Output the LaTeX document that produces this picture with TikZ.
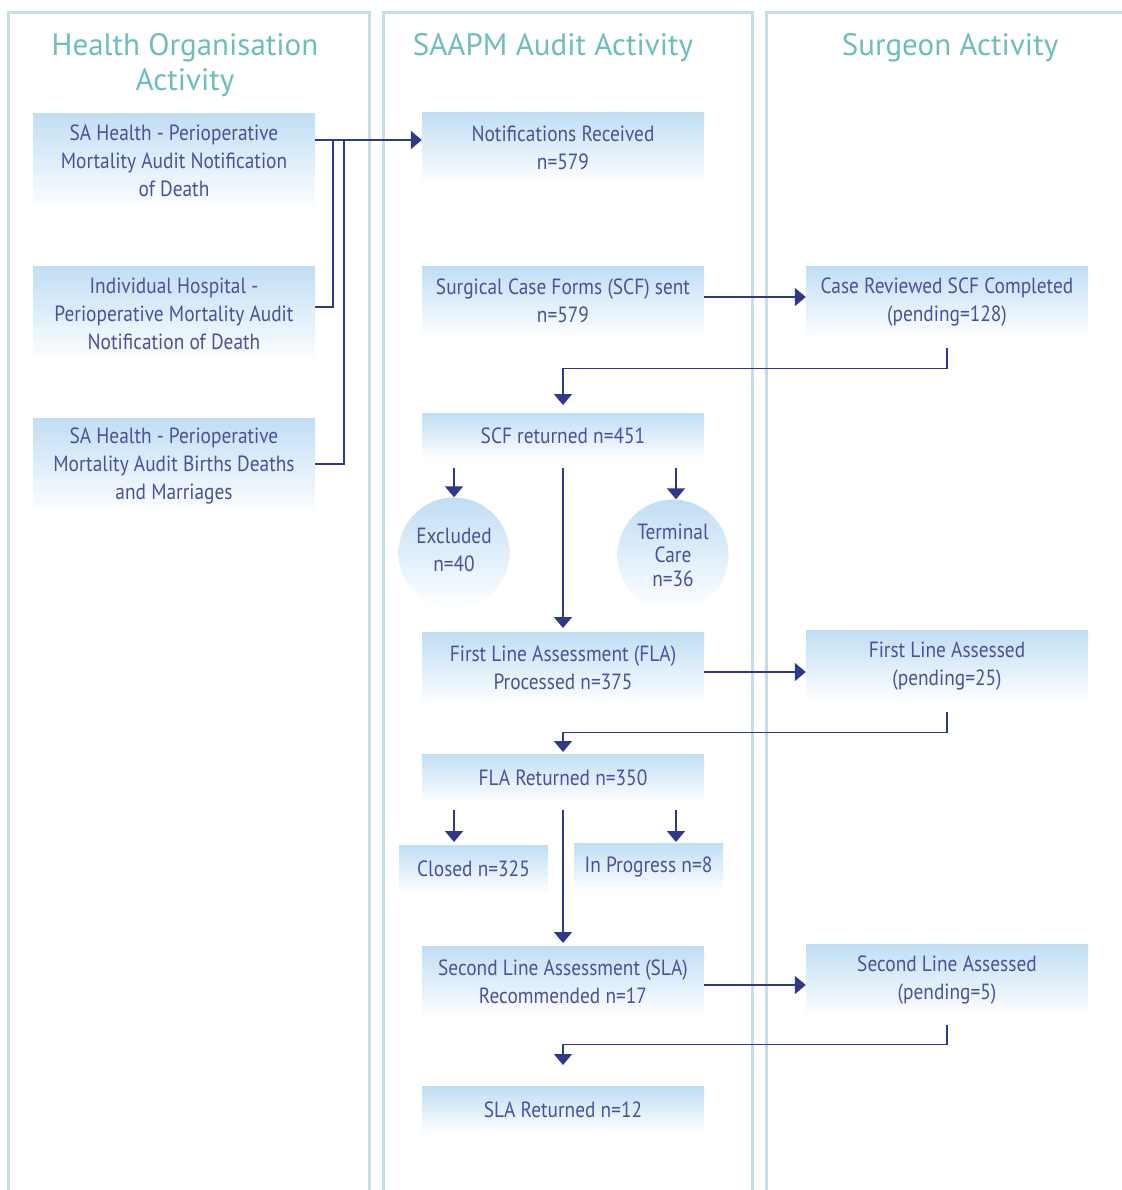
\documentclass[tikz,border=0pt]{standalone}
\usepackage{fontspec}
\usetikzlibrary{arrows.meta,shapes.geometric}
\newfontfamily\boxfont[FakeStretch=0.88]{PT Sans}
\newfontfamily\headfont[FakeStretch=1.0]{PT Sans}
\definecolor{boxtext}{RGB}{74,80,158}
\definecolor{arrcol}{RGB}{46,56,140}
\definecolor{headcol}{RGB}{107,190,190}
\definecolor{colborder}{RGB}{196,224,227}
\definecolor{boxblue}{RGB}{192,222,244}
\tikzset{
  box/.style={rectangle, anchor=north, minimum width=282pt, inner sep=2pt,
    top color=boxblue, bottom color=white, draw=none, align=center,
    text=boxtext, font=\boxfont\fontsize{22}{28}\selectfont},
  smallbox/.style={box, minimum width=149pt},
  roundbox/.style={circle, minimum size=111pt, inner sep=0pt,
    top color=boxblue, bottom color=white, draw=none, align=center,
    text=boxtext},
  heading/.style={text=headcol, align=center, font=\headfont\fontsize{31}{35}\selectfont},
  conn/.style={draw=arrcol, line width=1.8pt},
  arr/.style={conn, -{Triangle[width=18pt,length=11pt]}},
  lane/.style={draw=colborder, line width=3pt}
}
\begin{document}
\begin{tikzpicture}[x=1pt,y=-1pt]
\useasboundingbox (0,0) rectangle (1121,1190);
% swim lanes
\draw[lane] (8,1195) -- (8,13) -- (369,13) -- (369,1195);
\draw[lane] (383,1195) -- (383,13) -- (752,13) -- (752,1195);
\draw[lane] (766,1195) -- (766,13) -- (1126,13);
% headings
\node[heading] (hH) at (185,65) {Health Organisation\\Activity};
\node[heading] (hS) at (553,48) {SAAPM Audit Activity};
\node[heading] (hG) at (950,48) {Surgeon Activity};
% health organisation boxes
\node[box, minimum height=96pt] (h1) at (174,113) {SA Health - Perioperative\\Mortality Audit Notification\\of Death};
\node[box, minimum height=96pt] (h2) at (174,266) {Individual Hospital -\\Perioperative Mortality Audit\\Notification of Death};
\node[box, minimum height=96pt] (h3) at (174,418) {SA Health - Perioperative\\Mortality Audit Births Deaths\\and Marriages};
% SAAPM boxes
\node[box, minimum height=72pt] (notif) at (563,112) {Notifications Received\\n=579};
\node[box, minimum height=70pt] (scf) at (563,266) {Surgical Case Forms (SCF) sent\\n=579};
\node[box, minimum height=46pt] (scfret) at (563,413) {SCF returned n=451};
\node[roundbox, font=\boxfont\fontsize{22}{28}\selectfont] (excl) at (454,553) {Excluded\\n=40\rule[-6pt]{0pt}{1pt}};
\node[roundbox, font=\boxfont\fontsize{22}{23.5}\selectfont] (term) at (673,555) {Terminal\\Care\\n=36};
\node[box, minimum height=72pt] (fla) at (563,632) {First Line Assessment (FLA)\\Processed n=375};
\node[box, minimum height=48pt] (flaret) at (563,754) {FLA Returned n=350};
\node[smallbox, minimum height=48pt] (closed) at (473.5,845) {Closed n=325};
\node[smallbox, minimum height=48pt] (inprog) at (648.5,843) {In Progress n=8};
\node[box, minimum height=72pt] (sla) at (563,946) {Second Line Assessment (SLA)\\Recommended n=17};
\node[box, minimum height=48pt] (slaret) at (563,1086) {SLA Returned n=12};
% surgeon boxes
\node[box, minimum height=72pt] (caserev) at (947,266) {Case Reviewed SCF Completed\\(pending=128)};
\node[box, minimum height=72pt] (flad) at (947,630) {First Line Assessed\\(pending=25)};
\node[box, minimum height=72pt] (slad) at (947,944) {Second Line Assessed\\(pending=5)};
% junction coordinates
\coordinate (h1out) at ([yshift=-27pt]h1.north east);
\coordinate (h2out) at ([yshift=-41pt]h2.north east);
\coordinate (h3out) at ([yshift=-46pt]h3.north east);
\coordinate (j1) at ([xshift=18pt]h1out);
\coordinate (j2) at ([xshift=29pt]h1out);
% health -> notifications
\draw[arr] (h1out) -- (h1out -| notif.west);
\draw[conn] (h2out) -| (j1);
\draw[conn] (h3out) -| (j2);
% scf -> case reviewed
\coordinate (scfout) at ([yshift=-31pt]scf.north east);
\draw[arr] (scfout) -- (scfout -| caserev.west);
\coordinate (crout) at ([yshift=-10pt]caserev.south);
\draw[arr, shorten >=8pt] (crout) -- ++(0,20) -| (scfret.north);
% scf returned branches
\coordinate (sr) at ([yshift=-9pt]scfret.south);
\draw[arr] (sr -| excl.north) -- (excl.north);
\draw[arr] ([xshift=3pt]sr -| term.north) -- ([xshift=3pt]term.north);
\draw[arr, shorten >=4pt] (sr) -- (fla.north);
% fla -> first line assessed
\coordinate (flaout) at ([yshift=-40pt]fla.north east);
\draw[arr] (flaout) -- (flaout -| flad.west);
\coordinate (fdout) at ([yshift=-10pt]flad.south);
\draw[arr, shorten >=2pt] (fdout) -- ++(0,20) -| (flaret.north);
% fla returned branches
\coordinate (fr) at ([yshift=-8pt]flaret.south);
\coordinate (cl) at ([xshift=-19.5pt]closed.north);
\coordinate (ip) at ([xshift=27.5pt]inprog.north);
\draw[arr, shorten >=3pt] (fr -| cl) -- (cl);
\draw[arr, shorten >=1pt] (fr -| ip) -- (ip);
\draw[arr, shorten >=3pt] (fr) -- (sla.north);
% sla -> second line assessed
\coordinate (slaout) at ([yshift=-39pt]sla.north east);
\draw[arr] (slaout) -- (slaout -| slad.west);
\coordinate (sdout) at ([yshift=-9pt]slad.south);
\draw[arr, shorten >=21pt] (sdout) -- ++(0,19) -| (slaret.north);
\end{tikzpicture}
\end{document}
